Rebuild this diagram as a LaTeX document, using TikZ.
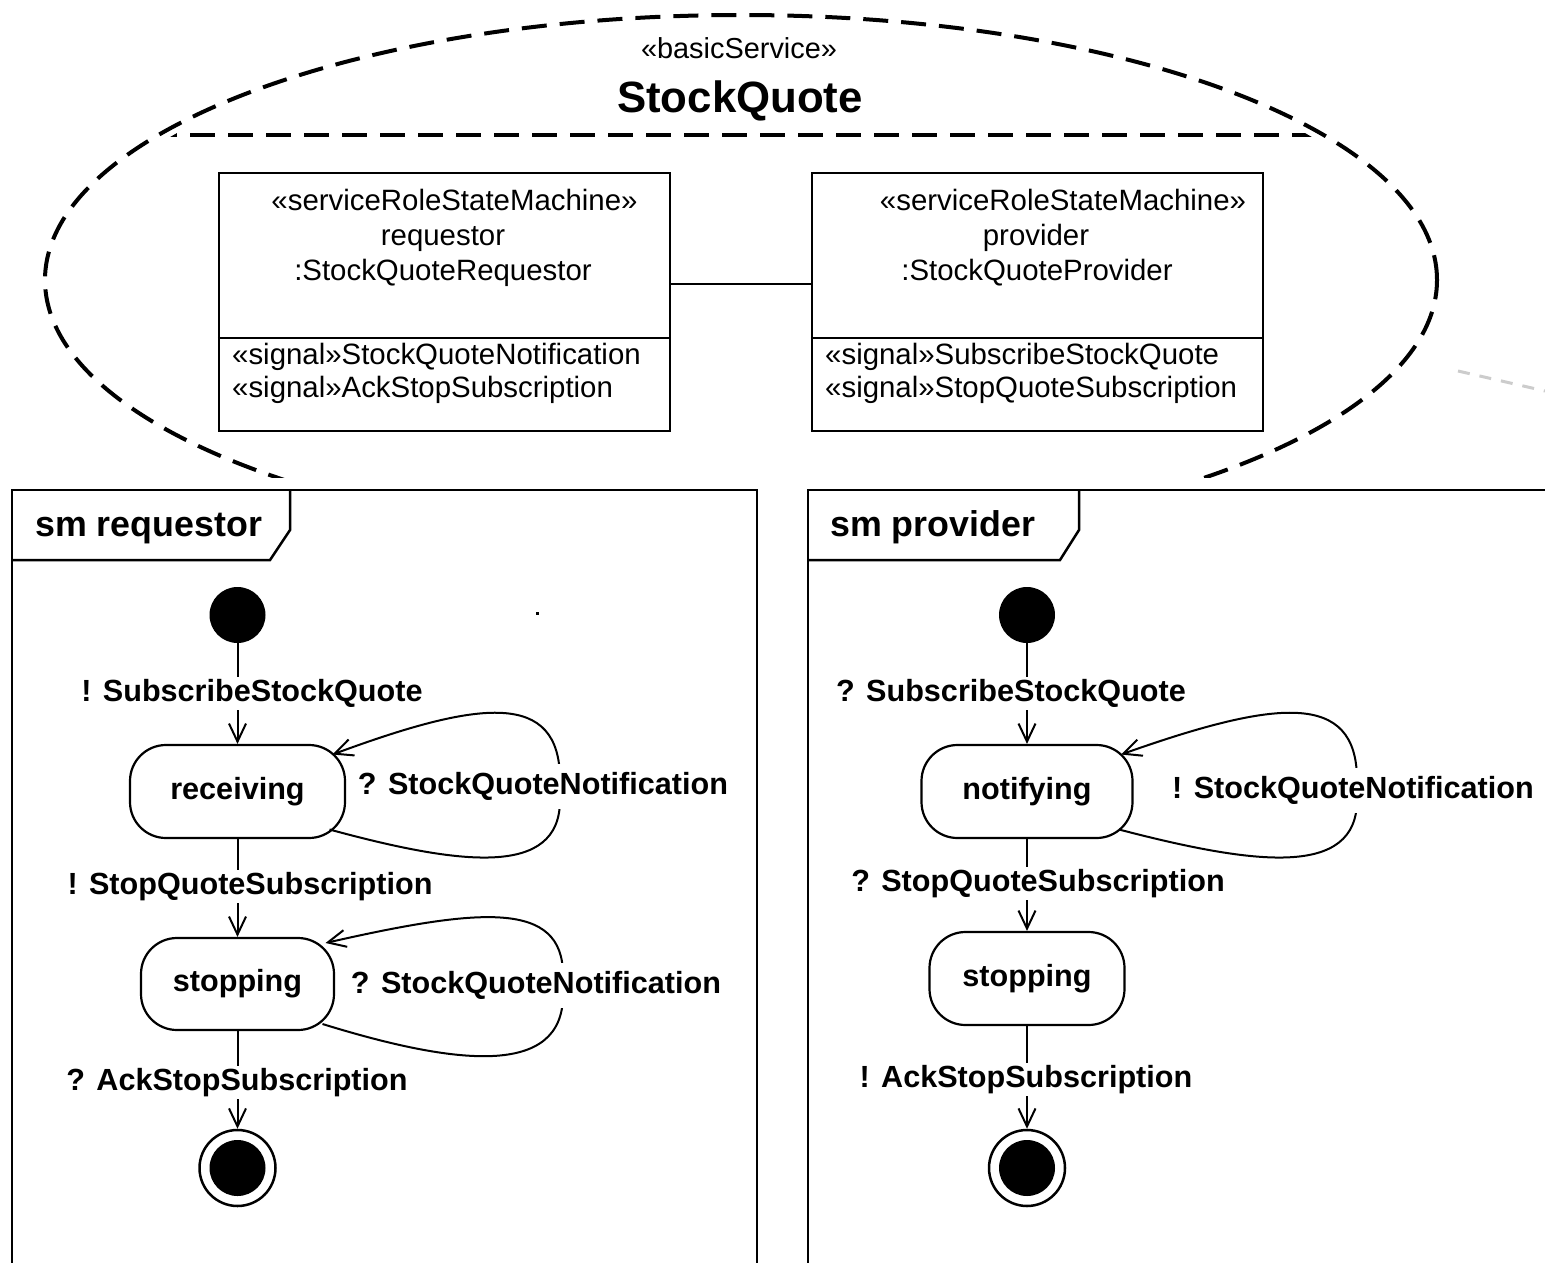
\documentclass[tikz,border=0pt]{standalone}
\usepackage{fontspec}
\setmainfont{Liberation Sans}
\usetikzlibrary{arrows.meta,calc}

\newcommand{\regfont}{\fontsize{29.4}{35}\selectfont}
\newcommand{\lblfont}{\fontsize{30.6}{36}\selectfont\bfseries}
\newcommand{\ttlfont}{\fontsize{35.8}{42}\selectfont\bfseries}

\begin{document}
\begin{tikzpicture}[x=1pt,y=-1pt,
  frameline/.style={line width=2.5pt},
  partbox/.style={draw, line width=2.5pt, minimum width=451pt, minimum height=258pt, inner sep=0pt},
  txt/.style={font=\regfont, inner sep=0pt, anchor=base},
  lbl/.style={font=\lblfont, fill=white, inner xsep=2pt, inner ysep=2pt, text height=22pt, text depth=7pt, anchor=base},
  looplbl/.style={lbl, inner ysep=8pt},
  smstate/.style={draw, line width=2.2pt, rounded corners=36pt, inner sep=0pt, font=\lblfont, text height=22pt, text depth=7pt},
  initstate/.style={circle, fill=black, minimum size=56pt, inner sep=0pt},
  finalstate/.style={circle, draw, line width=2.5pt, minimum size=76pt, inner sep=0pt},
  arr/.style={line width=2pt, -{Straight Barb[length=18pt,width=17pt]}},
  collab/.style={dash pattern=on 25pt off 13pt, line width=4pt}]
\useasboundingbox (0,0) rectangle (1545,1263);

% ---- collaboration (dashed ellipse) ----
\begin{scope}
  \clip (0,0) rectangle (1545,477);
  \draw[collab] (741,280) ellipse [x radius=696pt, y radius=265pt];
\end{scope}
\begin{scope}
  \clip (741,280) ellipse [x radius=680pt, y radius=263pt];
  \draw[collab] (0,135) -- (1545,135);
\end{scope}
\node[font=\fontsize{28.9}{34}\selectfont, anchor=base, inner sep=0pt] (stereo) at (739,59) {«basicService»};
\node[font=\fontsize{43.8}{50}\selectfont\bfseries, anchor=base, inner sep=0pt] (svcname) at (740,112) {StockQuote};

% faint dashed line leaving to the right
\draw[gray!40, line width=3pt, dash pattern=on 12pt off 10pt] (1458,371) -- (1545,391);

% ---- parts ----
\node[partbox] (reqpart) at (444.5,302) {};
\draw[line width=2.5pt] ([yshift=-36pt]reqpart.west) -- ([yshift=-36pt]reqpart.east);
\node[txt] (reqst) at (454.5,210) {«serviceRoleStateMachine»};
\node[txt] (reqname) at (443,245) {requestor};
\node[txt] (reqtype) at (443,280) {:StockQuoteRequestor};
\node[txt, anchor=base west] (reqsig1) at (232,364) {«signal»StockQuoteNotification};
\node[txt, anchor=base west] (reqsig2) at (232,397) {«signal»AckStopSubscription};

\node[partbox] (provpart) at (1037.5,302) {};
\draw[line width=2.5pt] ([yshift=-36pt]provpart.west) -- ([yshift=-36pt]provpart.east);
\node[txt] (provst) at (1063,210) {«serviceRoleStateMachine»};
\node[txt] (provname) at (1036,245) {provider};
\node[txt] (provtype) at (1037,280) {:StockQuoteProvider};
\node[txt, anchor=base west] (provsig1) at (825,364) {«signal»SubscribeStockQuote};
\node[txt, anchor=base west] (provsig2) at (825,397) {«signal»StopQuoteSubscription};

\draw[line width=2.2pt] ([yshift=18pt]reqpart.east) -- ([yshift=18pt]provpart.west);

% ---- sm requestor ----
\draw[frameline] (12,1263) -- (12,490) -- (757,490) -- (757,1263);
\draw[frameline] (12,560) -- (270,560) -- (290,530) -- (290,490);
\node[font=\ttlfont, anchor=base west, inner sep=0pt] (smreq) at (35,536) {sm requestor};

\fill (535.5,611.5) rectangle (538.5,614.5);

\node[initstate] (ini1) at (237.5,615) {};
\node[smstate, minimum width=215pt, minimum height=93pt] (recv) at (237.5,791.5) {receiving};
\node[smstate, minimum width=193pt, minimum height=92pt] (rstop) at (237.5,984) {stopping};
\node[finalstate] (fin1) at (237.5,1168) {};
\node[initstate] (fin1core) at (fin1) {};

\draw[arr] (ini1) -- (recv);
\draw[arr] (recv) -- (rstop);
\draw[arr] (rstop) -- (fin1);
\draw[arr] ($(recv.center)+(92,38)$) .. controls (460,865) and (560,878) .. (560,800)
  -- (560,780) .. controls (560,690) and (480,700) .. ($(recv.center)+(95,-37)$);
\draw[arr] ($(rstop.center)+(85,40)$) .. controls (455,1065) and (563,1078) .. (563,995)
  -- (563,975) .. controls (563,900) and (480,908) .. ($(rstop.center)+(88,-41)$);

\node[lbl] (l1) at (252,701) {! SubscribeStockQuote};
\node[lbl] (l2) at (250,894) {! StopQuoteSubscription};
\node[lbl] (l3) at (237,1090) {? AckStopSubscription};
\node[looplbl] (l4) at (543,794) {? StockQuoteNotification};
\node[looplbl] (l5) at (536,993) {? StockQuoteNotification};

% ---- sm provider ----
\draw[frameline] (808,1263) -- (808,490) -- (1545,490);
\draw[frameline] (808,560) -- (1060,560) -- (1079,530) -- (1079,490);
\node[font=\ttlfont, anchor=base west, inner sep=0pt] (smprov) at (830,536) {sm provider};

\node[initstate] (ini2) at (1027,615) {};
\node[smstate, minimum width=211pt, minimum height=93pt] (notif) at (1027,791.5) {notifying};
\node[smstate, minimum width=195pt, minimum height=93pt] (pstop) at (1027,978.5) {stopping};
\node[finalstate] (fin2) at (1027,1168) {};
\node[initstate] (fin2core) at (fin2) {};

\draw[arr] (ini2) -- (notif);
\draw[arr] (notif) -- (pstop);
\draw[arr] (pstop) -- (fin2);
\draw[arr] ($(notif.center)+(92,38)$) .. controls (1255,865) and (1357,878) .. (1357,800)
  -- (1357,780) .. controls (1357,690) and (1275,700) .. ($(notif.center)+(94,-37)$);

\node[lbl] (r1) at (1011,701) {? SubscribeStockQuote};
\node[lbl] (r2) at (1038,891) {? StopQuoteSubscription};
\node[lbl] (r3) at (1026,1087) {! AckStopSubscription};
\node[looplbl] (r4) at (1353,798) {! StockQuoteNotification};
\end{tikzpicture}
\end{document}
